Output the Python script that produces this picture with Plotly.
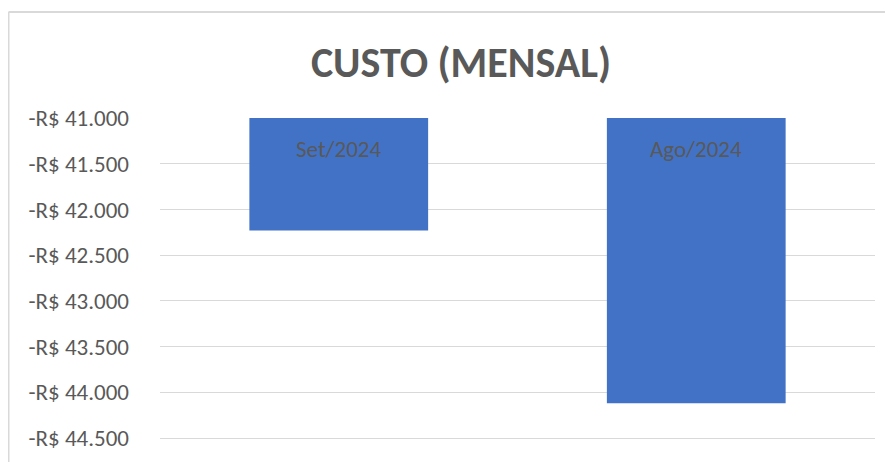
import plotly.graph_objects as go

# Data
months = ["Set/2024", "Ago/2024"]
costs = [-42230, -44120]
axis_top = -41000
tick_values = [-41000, -41500, -42000, -42500, -43000, -43500, -44000, -44500]
tick_labels = ["-R$ 41.000", "-R$ 41.500", "-R$ 42.000", "-R$ 42.500",
               "-R$ 43.000", "-R$ 43.500", "-R$ 44.000", "-R$ 44.500"]

FONT = "Calibri, Carlito, 'Open Sans', sans-serif"
GREY = "#595959"

fig = go.Figure()
fig.add_trace(go.Bar(
    x=months,
    y=[c - axis_top for c in costs],
    base=[axis_top] * len(costs),
    marker=dict(color="#4272C6", line=dict(width=0)),
    hoverinfo="skip",
))

for m in months:
    fig.add_annotation(x=m, y=axis_top, text=m, showarrow=False,
                       yanchor="top", yshift=-15,
                       font=dict(family=FONT, size=23, color=GREY))

# page body adds an 8px offset; layout below is in figure pixels
W, H = 893, 462
ml, mr, mt, mb = 152, 26, 110, 8
pw = W - ml - mr
ph = H - mt - mb

# Chart-area border (light grey frame, cropped at right/bottom)
bx = (0.5 - ml) / pw
by = 1 + (mt - 4) / ph
fig.add_shape(type="line", xref="paper", yref="paper", x0=bx, x1=bx, y0=-1, y1=by,
              line=dict(color="#D9D9D9", width=2))
fig.add_shape(type="line", xref="paper", yref="paper", x0=bx, x1=2, y0=by, y1=by,
              line=dict(color="#D9D9D9", width=2))

fig.update_layout(
    width=W, height=H,
    margin=dict(l=ml, r=mr, t=mt, b=mb),
    paper_bgcolor="white", plot_bgcolor="white",
    showlegend=False,
    bargap=0.5,
    title=dict(text="<b>CUSTO (MENSAL)</b>", x=453 / W, xanchor="center",
               y=1 - 54 / H, yanchor="middle",
               font=dict(family=FONT, size=42, color=GREY)),
    xaxis=dict(showticklabels=False, showgrid=False, zeroline=False, showline=False),
    yaxis=dict(range=[-44762, -41000], tickvals=tick_values, ticktext=tick_labels,
               showgrid=True, gridcolor="#D9D9D9", gridwidth=1, zeroline=False,
               showline=False, ticks="", ticklabelstandoff=30,
               tickfont=dict(family=FONT, size=23, color=GREY)),
)

fig.write_html("out.html")
